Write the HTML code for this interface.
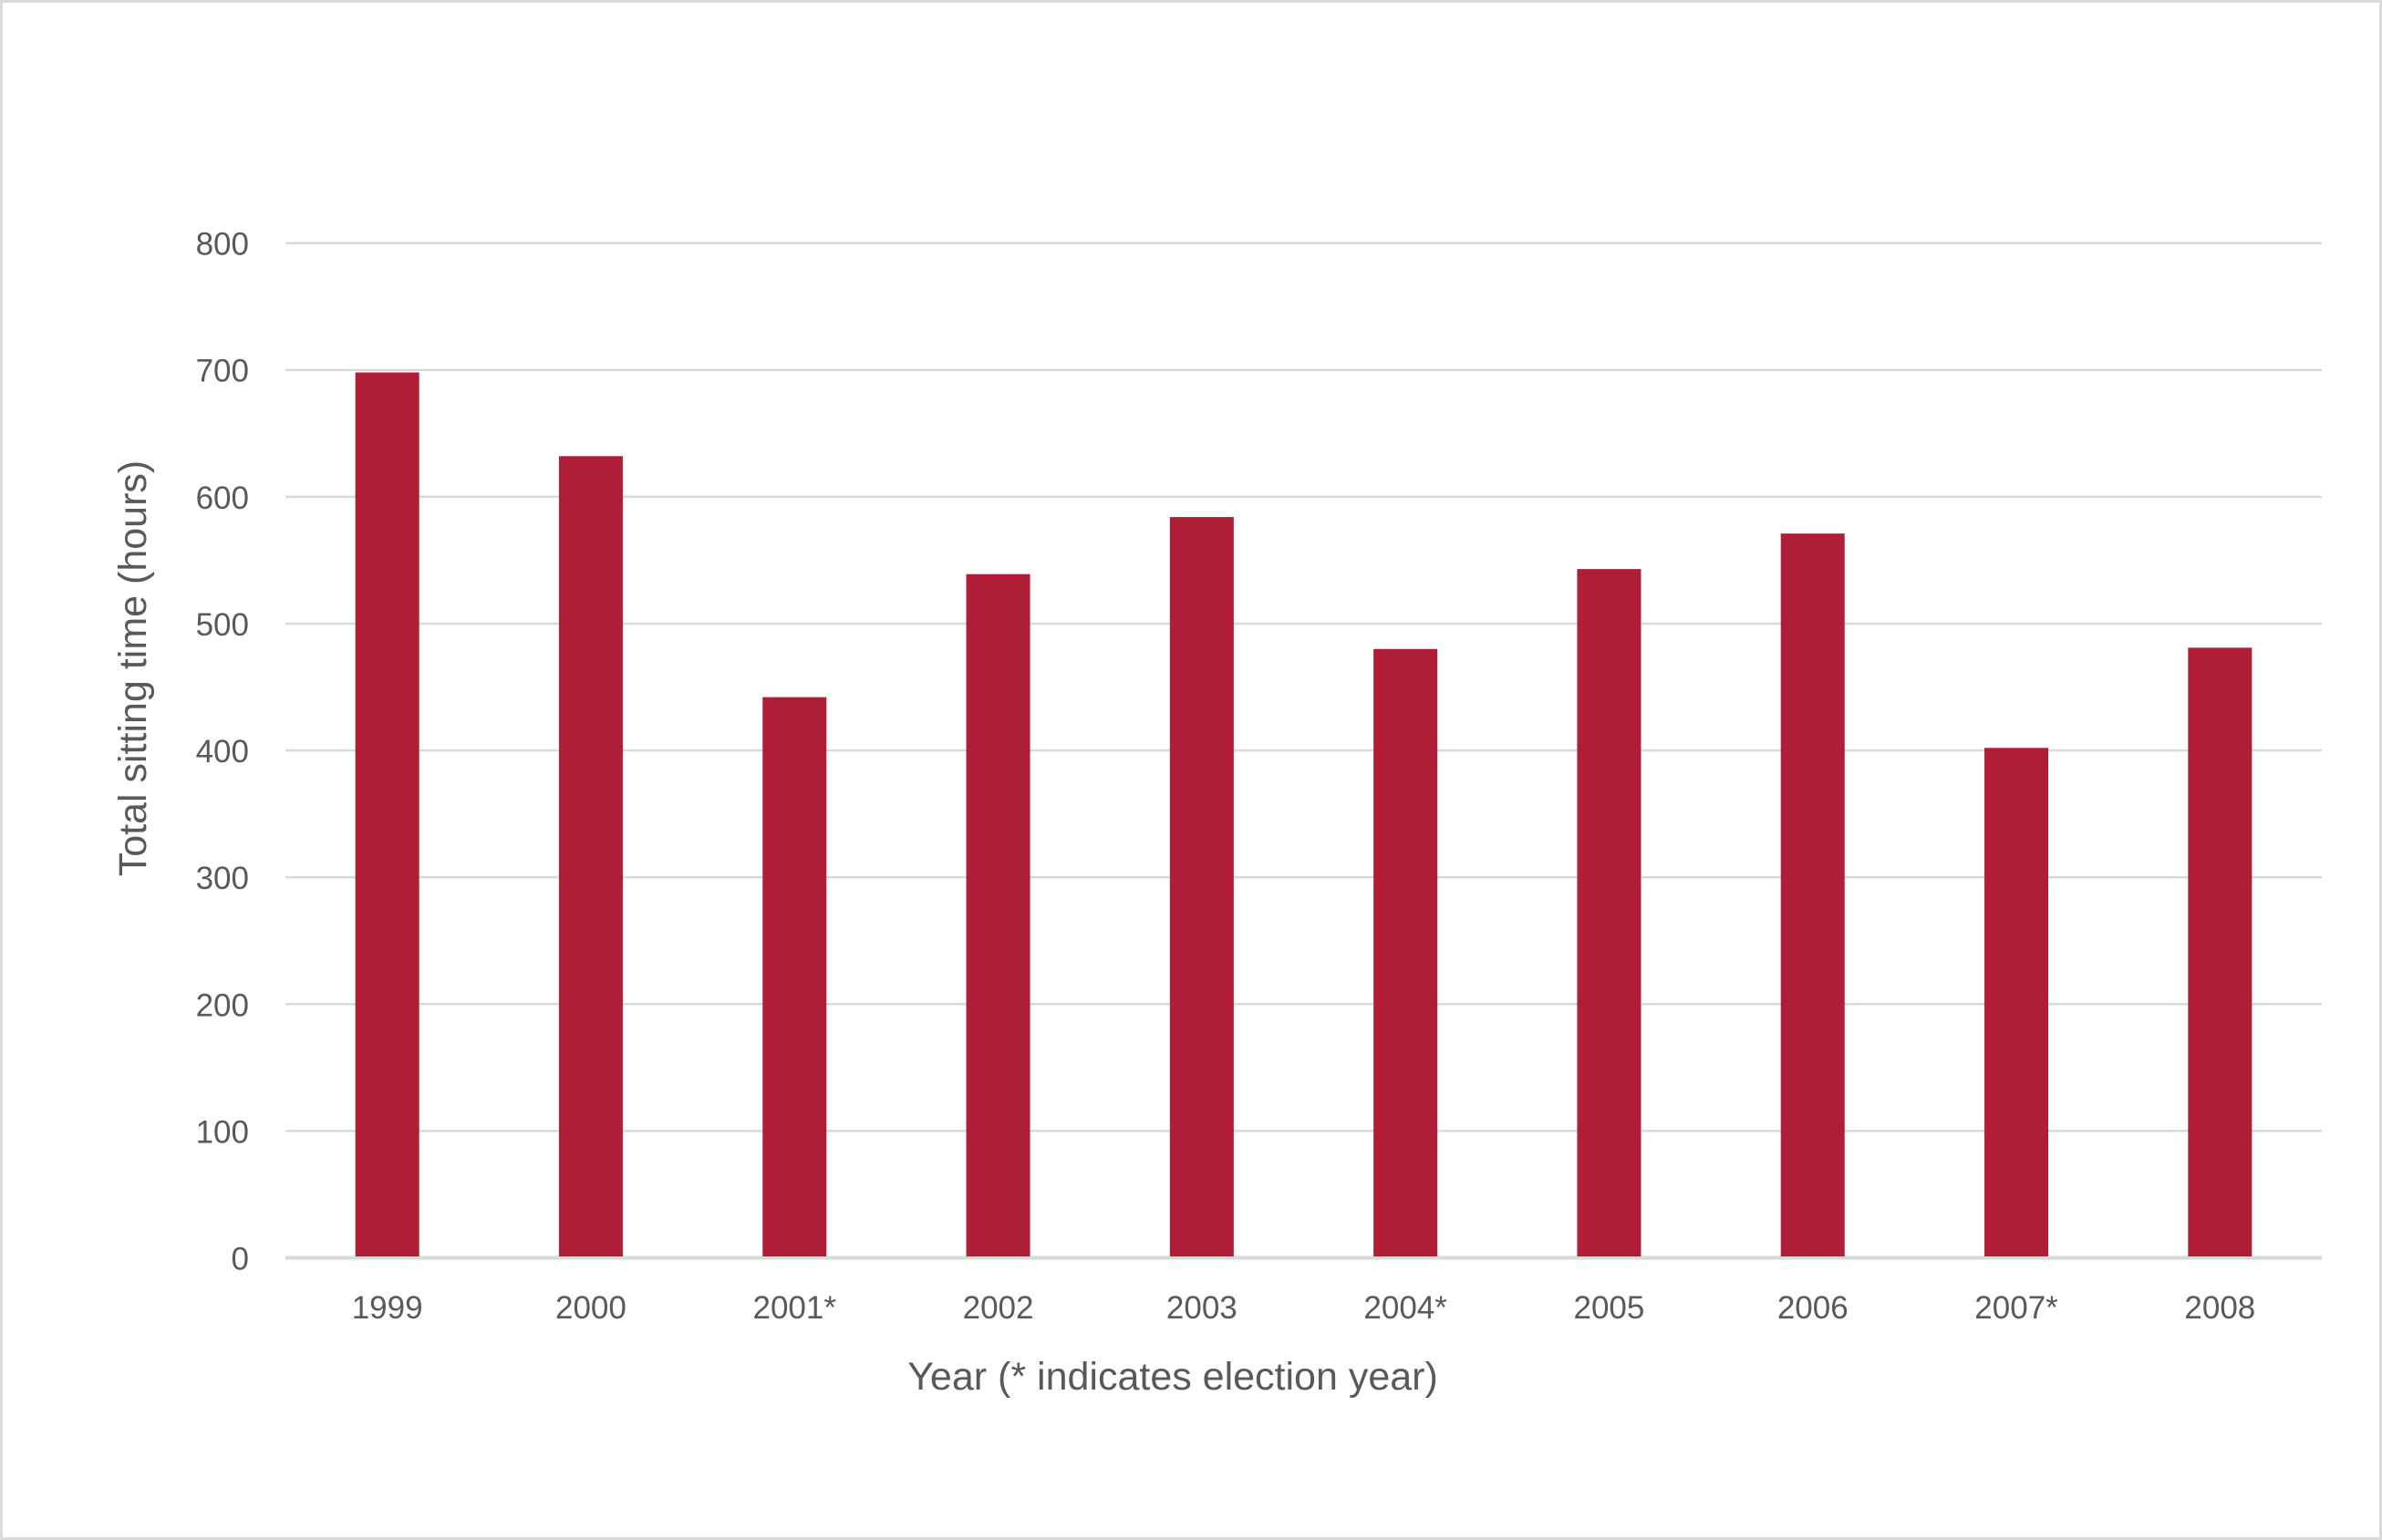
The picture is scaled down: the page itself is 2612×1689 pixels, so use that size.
<!DOCTYPE html>
<html><head><meta charset="utf-8"><style>
html,body{margin:0;padding:0;background:#fff;}
svg{display:block;font-family:"Liberation Sans",Arial,sans-serif;}
</style></head><body>
<svg id="chart" width="2612" height="1689" viewBox="0 0 2612 1689" xmlns="http://www.w3.org/2000/svg">
<rect x="1.5" y="1.5" width="2609" height="1686" fill="#fff" stroke="#d9d9d9" stroke-width="3"/>
<g id="grid"></g>
<g id="bars"></g>
<g id="labels"></g>
<text x="1286" y="1524" text-anchor="middle" font-size="43" fill="#595959">Year (* indicates election year)</text>
<text transform="translate(160,733) rotate(-90)" text-anchor="middle" font-size="43" fill="#595959">Total sitting time (hours)</text>
</svg>
<script>
const categories = ["1999","2000","2001*","2002","2003","2004*","2005","2006","2007*","2008"];
const values = [698, 632, 442, 539, 584, 480, 543, 571, 402, 481];
const yTicks = [0,100,200,300,400,500,600,700,800];

const NS = "http://www.w3.org/2000/svg";
const left = 313, right = 2546, y0 = 1379.5, yTop = 266.6, yMax = 800;
const band = (right-left)/categories.length, barW = 70;
const yScale = v => y0 - (v/yMax)*(y0-yTop);
const xCenter = i => left + band*(i+0.5);
const grid = document.getElementById('grid');
const bars = document.getElementById('bars');
const labels = document.getElementById('labels');

yTicks.forEach(t => {
  const l = document.createElementNS(NS,'line');
  
  
  l.setAttribute('x1', left); l.setAttribute('x2', right);
  l.setAttribute('y1', yScale(t)); l.setAttribute('y2', yScale(t));
  l.setAttribute('stroke', '#d9d9d9'); l.setAttribute('stroke-width', t===0?4:2.5);
  grid.appendChild(l);
  const tx = document.createElementNS(NS,'text');
  
  
  tx.setAttribute('x', 273); tx.setAttribute('y', yScale(t)+13);
  tx.setAttribute('text-anchor', 'end'); tx.setAttribute('font-size', '35'); tx.setAttribute('fill', '#595959');
  tx.textContent = t;
  labels.appendChild(tx);
});

categories.forEach((c, i) => {
  const r = document.createElementNS(NS,'rect');
  
  
  const y = yScale(values[i]);
  r.setAttribute('x', xCenter(i)-barW/2); r.setAttribute('y', y);
  r.setAttribute('width', barW); r.setAttribute('height', y0-y-1.5);
  r.setAttribute('fill', '#af1e36');
  bars.appendChild(r);
  const tx = document.createElementNS(NS,'text');
  
  
  tx.setAttribute('x', xCenter(i)); tx.setAttribute('y', 1446);
  tx.setAttribute('text-anchor', 'middle'); tx.setAttribute('font-size', '35'); tx.setAttribute('fill', '#595959');
  tx.textContent = c;
  labels.appendChild(tx);
});
</script>
</body></html>
